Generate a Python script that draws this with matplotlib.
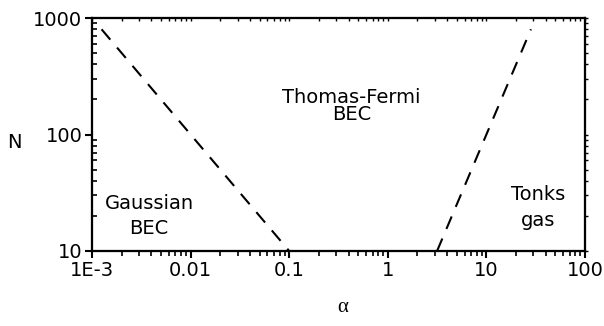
import matplotlib
matplotlib.use("Agg")
import matplotlib.pyplot as plt
from matplotlib.ticker import LogLocator, FixedLocator, NullFormatter

# Data: boundary lines (alpha, N)
gauss_tf_alpha = [1.25e-3, 0.1]
gauss_tf_N = [800, 10]
tf_tonks_alpha = [3.16, 28.3]
tf_tonks_N = [10, 800]

x_ticks = [1e-3, 1e-2, 1e-1, 1, 10, 100]
x_ticklabels = ["1E-3", "0.01", "0.1", "1", "10", "100"]
y_ticks = [10, 100, 1000]
y_ticklabels = ["10", "100", "1000"]

region_labels = ["Thomas-Fermi\nBEC", "Gaussian\nBEC", "Tonks\ngas"]
region_pos = [(0.43, 175), (0.00379, 20.0), (33.4, 23.6)]
region_spacing = [0.86, 1.36, 1.45]

plt.rcParams['font.family'] = ['DejaVu Sans']
FS = 14

fig = plt.figure(figsize=(6.04, 3.26), dpi=100)
ax = fig.add_axes([92/604, 1 - 251/326, (585-92)/604, (251-18)/326])
ax.set_xscale('log')
ax.set_yscale('log')
ax.set_xlim(1e-3, 100)
ax.set_ylim(10, 1000)

ax.plot(gauss_tf_alpha, gauss_tf_N, color='black', lw=1.5, dashes=(6.5, 5))
ax.plot(tf_tonks_alpha, tf_tonks_N, color='black', lw=1.5, dashes=(6.5, 5))

for txt, (x, y), ls in zip(region_labels, region_pos, region_spacing):
    ax.text(x, y, txt, ha='center', va='center', fontsize=FS, linespacing=ls)

ax.xaxis.set_major_locator(FixedLocator(x_ticks))
ax.set_xticklabels(x_ticklabels)
ax.yaxis.set_major_locator(FixedLocator(y_ticks))
ax.set_yticklabels(y_ticklabels)
ax.xaxis.set_minor_locator(LogLocator(base=10, subs=range(2, 10)))
ax.yaxis.set_minor_locator(LogLocator(base=10, subs=range(2, 10)))
ax.xaxis.set_minor_formatter(NullFormatter())
ax.yaxis.set_minor_formatter(NullFormatter())

for s in ax.spines.values():
    s.set_linewidth(1.5)

ax.tick_params(axis='both', which='major', labelsize=FS, width=1.5, length=5, direction='out', pad=2)
ax.tick_params(axis='x', which='minor', width=1.2, length=3.5, direction='out')
ax.tick_params(axis='y', which='minor', width=1.2, length=3.5, direction='in')

# top and right: small ticks
axt = ax.twiny()
axt.set_xscale('log')
axt.set_xlim(1e-3, 100)
axt.xaxis.set_major_locator(FixedLocator(x_ticks))
axt.xaxis.set_minor_locator(LogLocator(base=10, subs=range(2, 10)))
axt.tick_params(axis='x', which='both', direction='in', length=2, width=1.0,
                labeltop=False)
axr = ax.twinx()
axr.set_yscale('log')
axr.set_ylim(10, 1000)
axr.yaxis.set_major_locator(FixedLocator(y_ticks))
axr.yaxis.set_minor_locator(LogLocator(base=10, subs=range(2, 10)))
axr.tick_params(axis='y', which='both', direction='out', length=2, width=1.0,
                labelright=False)
for a in (axt, axr):
    for s in a.spines.values():
        s.set_linewidth(1.5)

ax.set_ylabel("N", rotation=0, fontsize=FS, va='center', ha='center')
ax.yaxis.set_label_coords(-(92 - 14) / 493, 1 - (142 - 18) / 233)
ax.set_xlabel("α", fontsize=15, family=['Liberation Serif', 'DejaVu Serif'])
ax.xaxis.set_label_coords((343 - 92) / 493, -(308 - 251) / 233)
ax.xaxis.label.set_va('center')

fig.savefig("out.png", dpi=100)
